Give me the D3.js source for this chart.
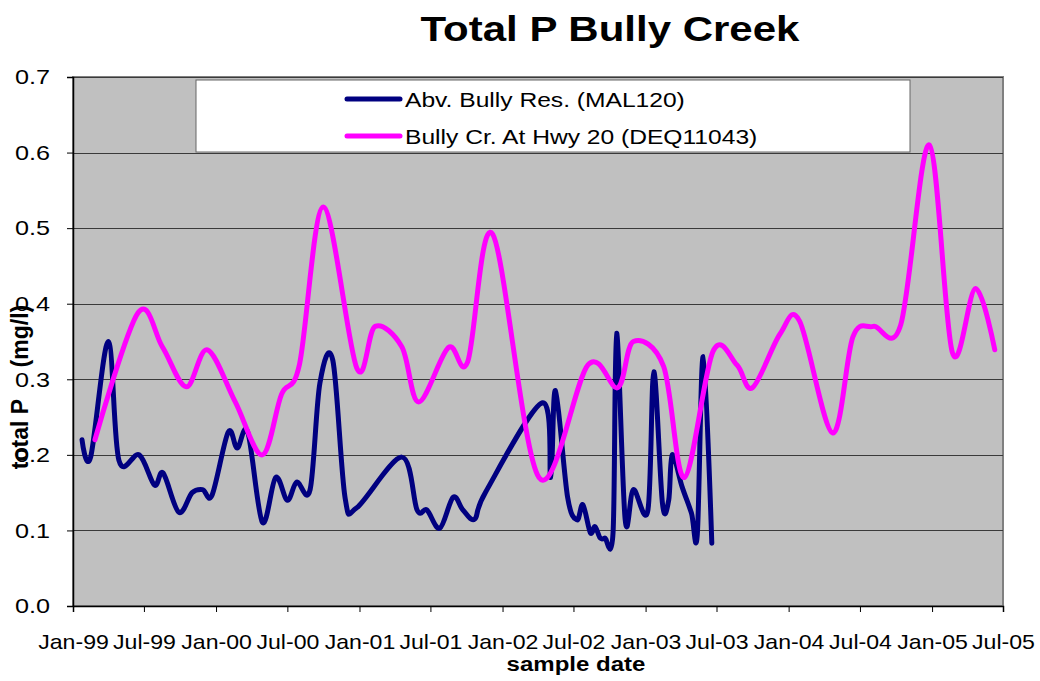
<!DOCTYPE html>
<html>
<head>
<meta charset="utf-8">
<script src="https://cdn.jsdelivr.net/npm/d3@7"></script>
<style>
  body { margin: 0; background: #fff; }
  text { font-family: "Liberation Sans", Arial, sans-serif; }
</style>
</head>
<body>
<div class="chart"></div>
<script>
// sample dates and total P (mg/l)
var abvDates = ["1999-01-24","1999-02-15","1999-04-01","1999-04-28","1999-06-19","1999-07-28","1999-08-19",
  "1999-09-28","1999-11-01","1999-11-28","1999-12-22","2000-02-01","2000-02-24","2000-03-22","2000-04-28",
  "2000-06-01","2000-07-01","2000-07-25","2000-08-28","2000-09-22","2000-10-25","2000-11-25","2000-12-25",
  "2001-04-19","2001-05-28","2001-06-22","2001-07-25","2001-08-28","2001-09-22","2001-10-22","2001-11-19",
  "2002-04-13","2002-05-04","2002-05-16","2002-06-16","2002-07-10","2002-07-25","2002-08-13","2002-08-25",
  "2002-09-07","2002-09-19","2002-10-10","2002-10-19","2002-11-10","2002-12-01","2003-01-07","2003-01-22",
  "2003-02-13","2003-03-01","2003-03-10","2003-04-04","2003-04-28","2003-05-13","2003-05-28","2003-06-19"];
var abvValues = [0.22,0.197,0.35,0.193,0.20,0.16,0.176,
  0.124,0.15,0.154,0.147,0.23,0.209,0.23,0.111,
  0.17,0.14,0.164,0.154,0.295,0.325,0.144,0.13,
  0.197,0.127,0.127,0.103,0.144,0.127,0.115,0.151,
  0.269,0.17,0.285,0.144,0.114,0.134,0.097,0.105,
  0.09,0.09,0.097,0.361,0.114,0.154,0.127,0.31,
  0.136,0.14,0.2,0.158,0.123,0.095,0.33,0.083];

var hwyDates = ["1999-02-26","1999-06-16","1999-08-17","1999-10-17","1999-12-10","2000-02-19","2000-04-28",
  "2000-06-16","2000-08-01","2000-10-01","2000-12-25","2001-02-10","2001-04-19","2001-06-01","2001-08-16",
  "2001-10-04","2001-12-07","2002-04-04","2002-08-07","2002-10-22","2002-12-01","2003-02-16","2003-04-10",
  "2003-06-22","2003-08-22","2003-10-01","2003-12-10","2004-01-29","2004-04-22","2004-06-13","2004-08-04",
  "2004-10-13","2004-12-25","2005-02-22","2005-04-22","2005-06-10"];
var hwyValues = [0.22,0.388,0.343,0.29,0.339,0.27,0.20,
  0.28,0.32,0.528,0.315,0.37,0.343,0.27,0.342,
  0.323,0.492,0.17,0.319,0.289,0.35,0.317,0.17,
  0.337,0.319,0.289,0.36,0.377,0.229,0.356,0.37,
  0.372,0.61,0.335,0.42,0.339];

var seriesNames = ["Abv. Bully Res. (MAL120)", "Bully Cr. At Hwy 20 (DEQ11043)"];
var seriesColors = ["#000080", "#FF00FF"];
var yTicks = [0, 0.1, 0.2, 0.3, 0.4, 0.5, 0.6, 0.7];

var parse = d3.timeParse("%Y-%m-%d");
var series = [
  abvDates.map(function(d, i) { return { date: parse(d), value: abvValues[i] }; }),
  hwyDates.map(function(d, i) { return { date: parse(d), value: hwyValues[i] }; })
];

var plot = { left: 73, top: 77, right: 1003, bottom: 606 };

// the original's text is drawn a bit wide, so stretch glyphs horizontally
function widen(sel, k) {
  sel.each(function() {
    var w = this.getComputedTextLength();
    d3.select(this).attr("textLength", w * k).attr("lengthAdjust", "spacingAndGlyphs");
  });
}

var svg = d3.select(".chart").append("svg")
  .attr("width", 1040)
  .attr("height", 681);

var x = d3.scaleTime()
  .domain([new Date(1999, 0, 1), new Date(2005, 6, 1)])
  .range([plot.left, plot.right]);
var y = d3.scaleLinear()
  .domain([0, 0.7])
  .range([plot.bottom, plot.top]);

// plot background
svg.append("rect")
  .attr("x", plot.left).attr("y", plot.top)
  .attr("width", plot.right - plot.left)
  .attr("height", plot.bottom - plot.top)
  .attr("fill", "#C0C0C0")
  .attr("stroke", "#808080")
  .attr("stroke-width", 2);

// gridlines
svg.selectAll("line.grid").data(yTicks.slice(1)).enter().append("line")
  .attr("class", "grid")
  .attr("x1", plot.left).attr("x2", plot.right)
  .attr("y1", function(d) { return Math.round(y(d)) + 0.5; })
  .attr("y2", function(d) { return Math.round(y(d)) + 0.5; })
  .attr("stroke", "#3a3a3a")
  .attr("stroke-width", 1);

// y axis
var yAxis = svg.append("g")
  .attr("transform", "translate(" + plot.left + ",0)")
  .call(d3.axisLeft(y).tickValues(yTicks).tickFormat(d3.format(".1f")).tickSize(6).tickPadding(17));
yAxis.select(".domain").attr("stroke", "#000").attr("stroke-width", 1.5);
yAxis.selectAll(".tick line").attr("stroke", "#000");
yAxis.selectAll(".tick text")
  .attr("font-family", "Liberation Sans, Arial, sans-serif")
  .attr("font-size", 21)
  .attr("fill", "#000")
  .call(widen, 1.2);

// x axis
var xTickDates = d3.timeMonth.every(6).range(new Date(1999, 0, 1), new Date(2005, 6, 2));
var xAxis = svg.append("g")
  .attr("transform", "translate(0," + plot.bottom + ")")
  .call(d3.axisBottom(x).tickValues(xTickDates).tickFormat(d3.timeFormat("%b-%y")).tickSize(6).tickPadding(22));
xAxis.select(".domain").attr("stroke", "#000").attr("stroke-width", 1.5);
xAxis.selectAll(".tick line").attr("stroke", "#000");
xAxis.selectAll(".tick text")
  .attr("font-family", "Liberation Sans, Arial, sans-serif")
  .attr("font-size", 21)
  .attr("fill", "#000")
  .call(widen, 1.1);

// series lines, smoothed like the original
var line = d3.line()
  .x(function(d) { return x(d.date); })
  .y(function(d) { return y(d.value); })
  .curve(d3.curveCatmullRom.alpha(0));

svg.selectAll("path.series").data(series).enter().append("path")
  .attr("class", "series")
  .attr("d", line)
  .attr("fill", "none")
  .attr("stroke", function(d, i) { return seriesColors[i]; })
  .attr("stroke-width", 5)
  .attr("stroke-linejoin", "round")
  .attr("stroke-linecap", "round");

// legend
var legend = svg.append("g");
legend.append("rect")
  .attr("x", 196).attr("y", 80)
  .attr("width", 714).attr("height", 72)
  .attr("fill", "#fff")
  .attr("stroke", "#666")
  .attr("stroke-width", 1);
var items = legend.selectAll("g.item").data(seriesNames).enter().append("g")
  .attr("class", "item")
  .attr("transform", function(d, i) { return "translate(0," + (99 + i * 37) + ")"; });
items.append("line")
  .attr("x1", 347).attr("x2", 400)
  .attr("stroke", function(d, i) { return seriesColors[i]; })
  .attr("stroke-width", 5)
  .attr("stroke-linecap", "round");
items.append("text")
  .attr("x", 405).attr("y", 8)
  .attr("font-size", 20.5)
  .text(function(d) { return d; })
  .call(widen, 1.2);

// titles
svg.append("text")
  .attr("x", 610).attr("y", 41)
  .attr("text-anchor", "middle")
  .attr("font-size", 35)
  .attr("font-weight", "bold")
  .text("Total P Bully Creek")
  .call(widen, 1.2);

svg.append("text")
  .attr("x", 576).attr("y", 671)
  .attr("text-anchor", "middle")
  .attr("font-size", 20)
  .attr("font-weight", "bold")
  .text("sample date")
  .call(widen, 1.2);

svg.append("text")
  .attr("transform", "translate(28,387) rotate(-90)")
  .attr("text-anchor", "middle")
  .attr("font-size", 23)
  .attr("font-weight", "bold")
  .style("white-space", "pre")
  .text("total P     (mg/l)");
</script>
</body>
</html>
